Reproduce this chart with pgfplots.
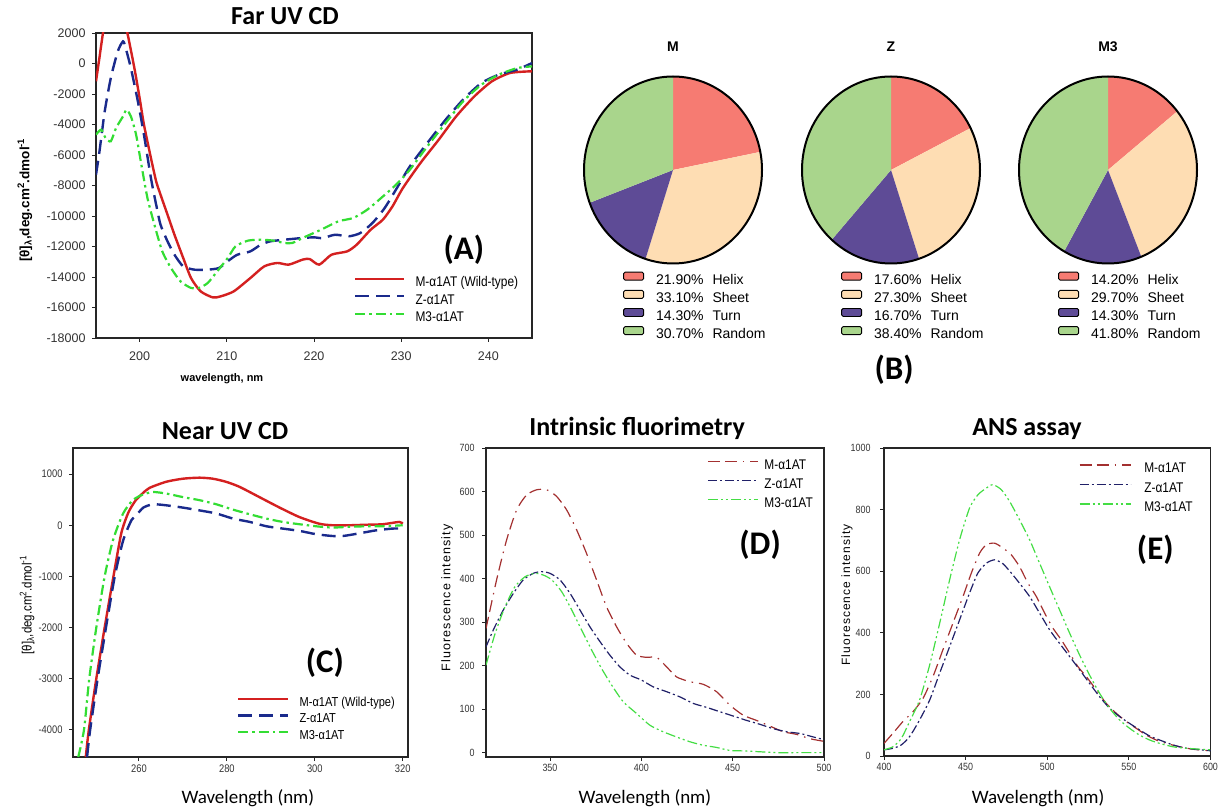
\documentclass[border=0pt]{standalone}
\usepackage{fontspec}
\setmainfont{Liberation Sans}
\newfontfamily\calfont{Carlito}
\newfontfamily\narrow[FakeStretch=0.85]{Liberation Sans}
\newfontfamily\spaced[LetterSpace=9]{Liberation Sans}
\usepackage{pgfplots}
\pgfplotsset{compat=1.18}

\definecolor{cdred}{HTML}{D42020}
\definecolor{cdblue}{HTML}{1A2A8C}
\definecolor{cdgreen}{HTML}{33DD33}
\definecolor{flred}{HTML}{A33030}
\definecolor{flblue}{HTML}{202068}
\definecolor{flgreen}{HTML}{44DD44}
\definecolor{helix}{HTML}{F67B72}
\definecolor{sheet}{HTML}{FEDDB3}
\definecolor{turn}{HTML}{5E4B96}
\definecolor{random}{HTML}{A9D58C}

\tikzset{
  cdtitle/.style={font=\calfont\bfseries\fontsize{26}{30}\selectfont, anchor=base},
  letter/.style={font=\calfont\bfseries\fontsize{33}{36}\selectfont},
  wl/.style={font=\calfont\fontsize{19}{22}\selectfont, anchor=base},
  mred/.style={color=cdred, line width=2.4pt, smooth, tension=0.4},
  zblue/.style={color=cdblue, line width=2.4pt, dash pattern=on 14pt off 7pt, smooth, tension=0.4},
  mgreen/.style={color=cdgreen, line width=2.2pt, dash pattern=on 10pt off 4pt on 2.5pt off 4pt, smooth, tension=0.4},
  fred/.style={color=flred, line width=1.2pt, dash pattern=on 12pt off 5pt on 12pt off 6pt on 1.5pt off 6pt, smooth, tension=0.4},
  fblue/.style={color=flblue, line width=1.2pt, dash pattern=on 9pt off 3pt on 2pt off 3pt, smooth, tension=0.4},
  fgreen/.style={color=flgreen, line width=1.2pt, dash pattern=on 10pt off 3pt on 2pt off 3pt on 2pt off 3pt, smooth, tension=0.4},
  pierim/.style={draw=black, line width=2pt},
}

\pgfplotsset{
  panel/.style={
    scale only axis, anchor=south west,
    axis line style={line width=1.1pt, black!85},
    tick align=outside, tick pos=left,
    major tick length=4pt,
    tick style={black!85, line width=0.9pt},
    scaled ticks=false,
    /pgf/number format/1000 sep={},
    /pgf/number format/assume math mode=true,
    legend cell align=left,
  },
  pie/.style={
    scale only axis, anchor=south west, width=178pt, height=187pt,
    xmin=-1, xmax=1, ymin=-1, ymax=1, hide axis, clip=false,
    title style={at={(0.5,1.1)}, anchor=base, font=\bfseries\fontsize{14}{16}\selectfont},
    legend cell align=left,
    legend style={at={(0.219,-0.043)}, anchor=north west, draw=none, fill=none,
      inner sep=0pt, font=\fontsize{14}{16}\selectfont,
      nodes={inner sep=0pt, text height=10pt, text depth=3pt}, row sep=2.7pt,
      /tikz/every odd column/.append style={column sep=12pt}},
    legend image code/.code={\draw[#1, draw=black, line width=0.9pt, rounded corners=1.5pt] (0pt,0.5pt) rectangle (20pt,8.5pt);},
  },
}

\begin{document}
\begin{tikzpicture}
\useasboundingbox (0pt,0pt) rectangle (1219pt,807pt);

% ---------- (A) Far UV CD
\begin{axis}[panel, at={(96pt,469pt)}, width=436pt, height=305pt,
  xmin=195, xmax=245, ymin=-18000, ymax=2000,
  xtick={200,210,...,240}, ytick={-18000,-16000,...,2000},
  tick label style={font=\fontsize{12.5}{14}\selectfont, black!80},
  yticklabel style={xshift=-3pt}, xticklabel style={yshift=-6pt},
  title={Far UV CD}, title style={cdtitle, at={(0.4335,1.0066)}},
  xlabel={wavelength, nm},
  xlabel style={at={(0.289,-0.141)}, anchor=base, font=\bfseries\fontsize{11}{13}\selectfont},
  ylabel={[θ]\textsubscript{λ},deg.cm\textsuperscript{2}.dmol\textsuperscript{-1}},
  ylabel style={at={(-0.163,0.452)}, anchor=center, font=\bfseries\fontsize{13.5}{15}\selectfont},
  legend style={at={(0.5917,0.2016)}, anchor=north west, draw=none, fill=none, inner sep=0pt,
    font=\narrow\fontsize{14}{16}\selectfont, nodes={inner sep=0pt, text height=10pt, text depth=3pt},
    row sep=4.5pt, /tikz/every odd column/.append style={column sep=10pt}},
  legend image code/.code={\draw[#1] (0pt,4.5pt) -- (49pt,4.5pt);},
]
\addplot[mred] coordinates {
 (195,-1170) (195.4,400) (195.8,2000) (196.3,3600) (197,4400) (197.8,3900) (198.6,2000)
 (199.4,-295) (200,-2260) (200.5,-4010) (201.3,-6200) (201.9,-7730) (202.4,-8600)
 (203.2,-9910) (204,-11230) (205,-12750) (205.9,-14070) (207,-14940) (208.4,-15340)
 (209.3,-15270) (210.8,-14940) (212.7,-14070) (214.3,-13300) (215.8,-13080) (217.1,-13190)
 (218.7,-12860) (219.5,-12820) (220.6,-13190) (222,-12540) (223.8,-12320) (224.9,-11880)
 (226.5,-10900) (227.9,-10240) (229,-9370) (230.2,-8160) (232.2,-6530) (234.3,-5000)
 (236.3,-3470) (238.4,-2150) (240.4,-1170) (242.5,-620) (245,-510)};
\addplot[zblue] coordinates {
 (195,-7290) (195.4,-5760) (196,-3140) (196.7,-950) (197.5,800) (198.1,1450) (198.4,1020)
 (199,-300) (199.8,-2480) (200.5,-4670) (201.3,-7510) (201.9,-9260) (202.4,-10570)
 (203.2,-11660) (204,-12540) (205,-13300) (206.3,-13520) (207.8,-13520) (209.1,-13410)
 (210.1,-12970) (211.2,-12540) (212.7,-12320) (213.9,-11880) (215,-11660) (216.7,-11550)
 (218.7,-11440) (220,-11400) (221,-11450) (222.4,-11230) (224,-11330) (225.3,-11120)
 (226.7,-10460) (228.1,-9480) (229.4,-8270) (231,-6740) (233,-5210) (235.1,-3680)
 (237.1,-2370) (239.2,-1280) (241.2,-730) (243.3,-400) (245,30)};
\addplot[mgreen] coordinates {
 (195,-4670) (195.6,-4340) (196.1,-4890) (196.7,-5100) (197.3,-4230) (198.1,-3465)
 (198.5,-3030) (199,-3465) (199.6,-4670) (200.2,-6630) (200.9,-8820) (201.7,-10570)
 (202.6,-12320) (203.6,-13410) (204.7,-14290) (205.9,-14720) (206.8,-14720) (207.8,-14400)
 (208.9,-13630) (210.1,-12760) (211,-11990) (212.4,-11620) (213.9,-11550) (215.4,-11620)
 (216.6,-11770) (217.5,-11770) (218.7,-11440) (220.8,-10900) (222.8,-10350) (224.5,-10130)
 (226.1,-9590) (227.7,-8820) (229.4,-7950) (231,-6960) (233,-5430) (235.1,-3900)
 (237.1,-2480) (239.2,-1390) (241.2,-730) (243.3,-300) (245,-190)};
\legend{M-α1AT (Wild-type), Z-α1AT, M3-α1AT}
\node[letter] at (rel axis cs:0.844,0.289) {(A)};
\end{axis}

% ---------- (B) pies
\begin{axis}[pie, name=pieM, at={(584pt,543.5pt)}, title={M}]
\addplot[fill=helix, draw=none] coordinates {(0,0) (0,1)}
  arc[start angle=90, end angle=11.16, x radius=89pt, y radius=93.5pt] -- cycle;
\addplot[fill=sheet, draw=none] coordinates {(0,0) (0.9811,0.1936)}
  arc[start angle=11.16, end angle=-108, x radius=89pt, y radius=93.5pt] -- cycle;
\addplot[fill=turn, draw=none] coordinates {(0,0) (-0.3090,-0.9511)}
  arc[start angle=-108, end angle=-159.48, x radius=89pt, y radius=93.5pt] -- cycle;
\addplot[fill=random, draw=none] coordinates {(0,0) (-0.9365,-0.3505)}
  arc[start angle=-159.48, end angle=-270, x radius=89pt, y radius=93.5pt] -- cycle;
\legend{21.90\%\hspace{9pt}Helix, 33.10\%\hspace{9pt}Sheet, 14.30\%\hspace{9pt}Turn, 30.70\%\hspace{9pt}Random}
\end{axis}
\draw[pierim] (pieM.center) ellipse [x radius=89pt, y radius=93.5pt];

\begin{axis}[pie, name=pieZ, at={(802pt,543.5pt)}, title={Z}]
\addplot[fill=helix, draw=none] coordinates {(0,0) (0,1)}
  arc[start angle=90, end angle=26.64, x radius=89pt, y radius=93.5pt] -- cycle;
\addplot[fill=sheet, draw=none] coordinates {(0,0) (0.8938,0.4484)}
  arc[start angle=26.64, end angle=-71.64, x radius=89pt, y radius=93.5pt] -- cycle;
\addplot[fill=turn, draw=none] coordinates {(0,0) (0.3150,-0.9491)}
  arc[start angle=-71.64, end angle=-131.76, x radius=89pt, y radius=93.5pt] -- cycle;
\addplot[fill=random, draw=none] coordinates {(0,0) (-0.6659,-0.7460)}
  arc[start angle=-131.76, end angle=-270, x radius=89pt, y radius=93.5pt] -- cycle;
\legend{17.60\%\hspace{9pt}Helix, 27.30\%\hspace{9pt}Sheet, 16.70\%\hspace{9pt}Turn, 38.40\%\hspace{9pt}Random}
\node[letter] at (rel axis cs:0.517,-0.57) {(B)};
\end{axis}
\draw[pierim] (pieZ.center) ellipse [x radius=89pt, y radius=93.5pt];

\begin{axis}[pie, name=pieM3, at={(1019pt,543.5pt)}, title={M3}]
\addplot[fill=helix, draw=none] coordinates {(0,0) (0,1)}
  arc[start angle=90, end angle=38.88, x radius=89pt, y radius=93.5pt] -- cycle;
\addplot[fill=sheet, draw=none] coordinates {(0,0) (0.7786,0.6275)}
  arc[start angle=38.88, end angle=-68.04, x radius=89pt, y radius=93.5pt] -- cycle;
\addplot[fill=turn, draw=none] coordinates {(0,0) (0.3739,-0.9275)}
  arc[start angle=-68.04, end angle=-119.52, x radius=89pt, y radius=93.5pt] -- cycle;
\addplot[fill=random, draw=none] coordinates {(0,0) (-0.4927,-0.8702)}
  arc[start angle=-119.52, end angle=-270, x radius=89pt, y radius=93.5pt] -- cycle;
\legend{14.20\%\hspace{9pt}Helix, 29.70\%\hspace{9pt}Sheet, 14.30\%\hspace{9pt}Turn, 41.80\%\hspace{9pt}Random}
\end{axis}
\draw[pierim] (pieM3.center) ellipse [x radius=89pt, y radius=93.5pt];

% ---------- (C) Near UV CD
\begin{axis}[panel, at={(73pt,50pt)}, width=335pt, height=309pt,
  xmin=245, xmax=321.2, ymin=-4530, ymax=1510,
  xtick={260,280,300,320}, ytick={-4000,-3000,...,1000},
  tick label style={font=\narrow\fontsize{11}{13}\selectfont, black!80},
  yticklabel style={xshift=-3pt},
  title={Near UV CD}, title style={cdtitle, at={(0.454,1.0065)}},
  xlabel={Wavelength (nm)}, xlabel style={wl, at={(0.522,-0.1489)}},
  ylabel={[θ]\textsubscript{λ},deg.cm\textsuperscript{2}.dmol\textsuperscript{-1}},
  ylabel style={at={(-0.137,0.492)}, anchor=center, font=\narrow\fontsize{13.5}{15}\selectfont},
  legend style={at={(0.4896,0.1958)}, anchor=north west, draw=none, fill=none, inner sep=0pt,
    font=\narrow\fontsize{13}{15}\selectfont, nodes={inner sep=0pt, text height=9.5pt, text depth=3pt},
    row sep=4pt, /tikz/every odd column/.append style={column sep=10pt}},
  legend image code/.code={\draw[#1] (0pt,4pt) -- (50pt,4pt);},
]
\addplot[mred] coordinates {
 (247.9,-4530) (248.6,-4000) (250.3,-3000) (252.2,-2000) (254.2,-1000) (256,-150)
 (257.6,250) (259.2,480) (260.8,620) (262.4,730) (266.2,850) (270,910) (273.8,930)
 (276.8,910) (279.8,850) (282.9,750) (287.4,550) (292,345) (296.5,160) (301,30)
 (304,0) (307.9,0) (311.7,10) (315.5,20) (319.2,65) (320,30)};
\addplot[zblue] coordinates {
 (248.2,-4530) (248.9,-4000) (250.6,-3000) (252.5,-2000) (254.5,-1000) (256.4,-300)
 (258.3,100) (259.4,195) (261,345) (263.2,410) (266.2,390) (270,345) (273.8,290)
 (277.6,230) (281.4,130) (285.2,65) (289,-20) (292.7,-65) (296.5,-110) (300.3,-175)
 (304,-210) (306.4,-210) (310,-160) (313.9,-100) (317.7,-65) (320,-65)};
\addplot[mgreen] coordinates {
 (246.2,-4530) (247.5,-4000) (248.7,-3000) (250.3,-2000) (252.2,-1000) (254.1,-290)
 (256.4,230) (258.6,490) (260.9,600) (263.2,650) (266.2,620) (270,550) (273.8,490)
 (277.6,410) (281.4,305) (285.2,215) (289,130) (292.7,65) (296.5,20) (300.3,-20)
 (304,-45) (307.9,-30) (311.7,-20) (315.5,-20) (320,0)};
\legend{M-α1AT (Wild-type), Z-α1AT, M3-α1AT}
\node[letter] at (rel axis cs:0.752,0.304) {(C)};
\end{axis}

% ---------- (D) Intrinsic fluorimetry
\begin{axis}[panel, at={(486pt,50pt)}, width=338pt, height=309pt,
  xmin=315, xmax=500, ymin=-10, ymax=700,
  xtick={350,400,450,500}, ytick={0,100,...,700},
  tick label style={font=\narrow\fontsize{10.5}{12}\selectfont, black!80},
  yticklabel style={xshift=-4pt},
  title={Intrinsic fluorimetry}, title style={cdtitle, at={(0.447,1.0226)}},
  xlabel={Wavelength (nm)}, xlabel style={wl, at={(0.47,-0.1489)}},
  ylabel={Fluorescence intensity},
  ylabel style={at={(-0.115,0.515)}, anchor=center, font=\spaced\fontsize{12.5}{14}\selectfont},
  legend style={at={(0.654,0.963)}, anchor=north west, draw=none, fill=none, inner sep=0pt,
    font=\narrow\fontsize{14}{16}\selectfont, nodes={inner sep=0pt, text height=10pt, text depth=3.5pt},
    row sep=5.5pt, /tikz/every odd column/.append style={column sep=6pt}},
  legend image code/.code={\draw[#1] (0pt,4.5pt) -- (50pt,4.5pt);},
]
\addplot[fred] coordinates {
 (315,285) (320.8,397) (326.3,489) (331.8,558) (337.2,592) (342.7,604) (348.2,604)
 (353.6,589) (359.1,558) (364.6,512) (370,458) (375.5,397) (381,335) (386.5,289)
 (392,251) (397.4,224) (402.9,219) (408.4,219) (413.9,197) (419.3,174) (426.6,163)
 (433.9,157) (441.2,140) (448.5,109) (455.8,86) (463.1,74) (470.4,61) (477.7,48)
 (485,42) (492.3,32) (500,26)};
\addplot[fblue] coordinates {
 (315,243) (319,282) (324.5,328) (330,366) (335.4,397) (340.9,412) (345.4,416)
 (350,412) (355.5,397) (361,366) (366.4,328) (371.9,289) (377.4,255) (382.8,224)
 (388.3,197) (393.8,178) (400,167) (406.6,151) (413.9,140) (421.2,128) (428.5,113)
 (435.8,104) (443,94) (450.4,84) (457.7,74) (465,65) (472.3,55) (479.6,48) (486.9,44)
 (494.2,36) (500,30)};
\addplot[fgreen] coordinates {
 (315,201) (320,274) (325.4,335) (330.8,381) (336.3,404) (341.8,412) (346.4,408)
 (351,397) (356.4,370) (361.9,328) (367.3,282) (372.8,236) (378.3,193) (383.8,155)
 (390.1,117) (397.4,90) (404.7,63) (412,48) (419.3,36) (426.6,25) (433.9,17)
 (441.2,12) (448.5,5) (455.8,4) (465,2) (474,0) (483,0) (500,0)};
\legend{M-α1AT, Z-α1AT, M3-α1AT}
\node[letter] at (rel axis cs:0.811,0.686) {(D)};
\end{axis}

% ---------- (E) ANS assay
\begin{axis}[panel, at={(884pt,51pt)}, width=326.5pt, height=308pt,
  xmin=400, xmax=600, ymin=0, ymax=1000,
  xtick={400,450,...,600}, ytick={0,200,...,1000},
  tick label style={font=\narrow\fontsize{10.5}{12}\selectfont, black!80},
  yticklabel style={xshift=-6pt},
  title={ANS assay}, title style={cdtitle, at={(0.438,1.0227)}},
  xlabel={Wavelength (nm)}, xlabel style={wl, at={(0.472,-0.1526)}},
  ylabel={Fluorescence intensity},
  ylabel style={at={(-0.113,0.523)}, anchor=center, font=\spaced\fontsize{12}{14}\selectfont},
  legend style={at={(0.597,0.953)}, anchor=north west, draw=none, fill=none, inner sep=0pt,
    font=\narrow\fontsize{14}{16}\selectfont, nodes={inner sep=0pt, text height=10pt, text depth=3.5pt},
    row sep=6pt, /tikz/every odd column/.append style={column sep=13pt}},
  legend image code/.code={\draw[#1] (0pt,4.5pt) -- (51pt,4.5pt);},
]
\addplot[fred] coordinates {
 (400,41) (405.5,74) (411.6,112) (417.8,144) (423.9,187) (430,258) (436.1,345)
 (442.2,431) (448.4,518) (453.5,594) (458.6,659) (462.7,686) (467.8,691) (472.9,675)
 (478,653) (483,615) (488.2,561) (493.3,518) (498.4,464) (503.5,415) (508.6,377)
 (513.7,334) (518.8,290) (523.9,258) (530,215) (536.1,171) (542.2,139) (548.4,112)
 (554.5,90) (560.6,68) (566.7,52) (572.9,41) (581,30) (589.2,22) (600,17)};
\addplot[fblue] coordinates {
 (400,20) (405.5,25) (410.6,36) (415.7,63) (421.8,117) (428,182) (434.1,269)
 (440.2,355) (446.3,442) (452.4,529) (457.5,594) (462.7,626) (467.8,637) (472.9,624)
 (478,594) (483,561) (489.2,518) (495.3,464) (501.4,410) (507.5,366) (513.7,323)
 (519.8,280) (525.9,236) (532,193) (538.2,155) (544.3,128) (550.4,106) (556.5,85)
 (562.7,65) (568.8,52) (577,36) (585.3,25) (600,17)};
\addplot[fgreen] coordinates {
 (400,20) (405.5,30) (410.6,57) (415.7,112) (421.8,182) (428,296) (434.1,431)
 (440.2,572) (446.3,702) (452.4,805) (457.5,848) (462.7,870) (466.7,881) (471.8,865)
 (476.9,827) (483,767) (489.2,702) (495.3,626) (501.4,550) (507.5,475) (513.7,399)
 (519.8,328) (525.9,263) (532,204) (538.2,155) (544.3,117) (550.4,90) (556.5,68)
 (562.7,52) (568.8,41) (577,30) (585.3,25) (600,20)};
\legend{M-α1AT, Z-α1AT, M3-α1AT}
\node[letter] at (rel axis cs:0.831,0.669) {(E)};
\end{axis}
\end{tikzpicture}
\end{document}
